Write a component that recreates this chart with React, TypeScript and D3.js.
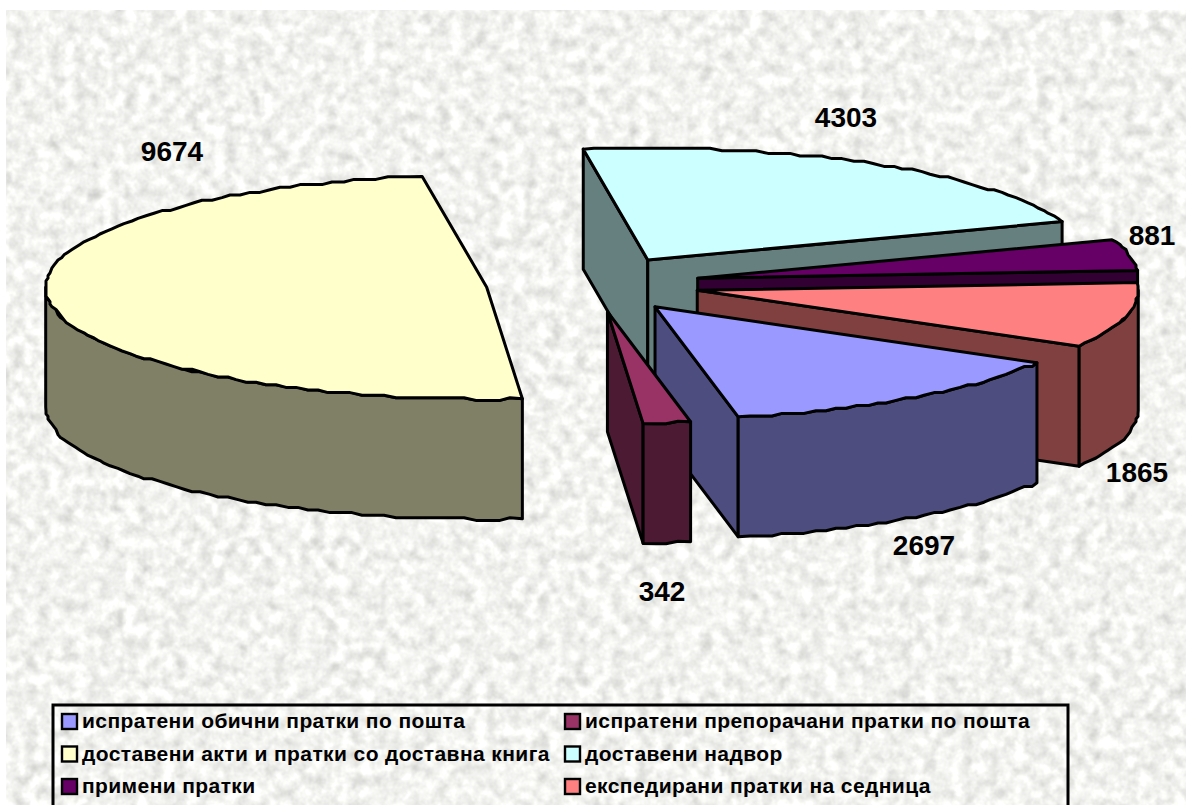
import React from "react";
import * as d3 from "d3";

const categories = [
  "испратени обични пратки по пошта",
  "испратени препорачани пратки по пошта",
  "доставени акти и пратки со доставна книга",
  "доставени надвор",
  "примени пратки",
  "експедирани пратки на седница",
];
const values = [2697, 342, 9674, 4303, 881, 1865];
const topColors = ["#9999ff", "#993366", "#ffffcc", "#ccffff", "#660066", "#ff8080"];
const wallColors = ["#4d4d80", "#4d1a33", "#808066", "#668080", "#330033", "#804040"];
const labelAnchors: [number, number][] = [
  [924, 555], [662, 601], [172, 161], [846, 127], [1152, 245], [1137, 482],
];

const W = 1186, H = 805;
const rx = 441, ry = 112, depth = 120;
const pieCx = 593, pieCy = 284, explodeX = 107, explodeY = 28;
const rad = (d: number) => (d * Math.PI) / 180;

const pie = d3.pie<number>().sort(null).startAngle(rad(120)).endAngle(rad(480));
const arcs = pie(values);

const lineGen = d3.line<[number, number]>().x(d => d[0]).y(d => d[1]).curve(d3.curveLinear);

type P = [number, number];
function rim(cx: number, cy: number, a0: number, a1: number): P[] {
  const step = rad(1.5);
  const n = Math.max(1, Math.round((a1 - a0) / step));
  const pts: P[] = [];
  for (let i = 0; i <= n; i++) {
    const t = a0 + ((a1 - a0) * i) / n;
    const x = cx + rx * Math.sin(t);
    const y = cy - ry * Math.cos(t);
    // the source is a low-resolution raster: its curves have a wavy stair-step
    const snap = i === 0 || i === n;
    pts.push([snap ? x : Math.round(x / 2) * 2, snap ? y : Math.round(y / 2.6) * 2.6]);
  }
  return pts;
}

function slicePaths(i: number) {
  const a = arcs[i];
  const mid = (a.startAngle + a.endAngle) / 2;
  const cx = pieCx + explodeX * Math.sin(mid);
  const cy = pieCy - explodeY * Math.cos(mid);
  const pt = (t: number): P => [cx + rx * Math.sin(t), cy - ry * Math.cos(t)];
  const walls: string[] = [];
  const wall = (p: P, q: P) =>
    walls.push(lineGen([p, q, [q[0], q[1] + depth], [p[0], p[1] + depth]])! + "Z");
  const apex: P = [cx, cy];
  if (Math.sin(a.startAngle) < 0) wall(apex, pt(a.startAngle));
  if (Math.sin(a.endAngle) > 0) wall(apex, pt(a.endAngle));
  // outer curved wall: the part of the rim that faces the viewer
  for (const k of [0, 1]) {
    const lo = Math.max(a.startAngle, rad(90 + 360 * k));
    const hi = Math.min(a.endAngle, rad(270 + 360 * k));
    if (hi > lo) {
      const r = rim(cx, cy, lo, hi);
      const low = r.slice().reverse().map(([x, y]): P => [x, y + depth]);
      walls.push(lineGen([...r, ...low])! + "Z");
    }
  }
  const top = lineGen([apex, ...rim(cx, cy, a.startAngle, a.endAngle)])! + "Z";
  return { walls, top, cy };
}

const slices = values
  .map((_, i) => ({ i, ...slicePaths(i) }))
  .sort((p, q) => p.cy - q.cy);

const legendRows = d3.range(Math.ceil(categories.length / 2));
const legendX = d3.scaleOrdinal<number, number>().domain([0, 1]).range([62, 565]);
const legendY = d3.scalePoint<number>().domain(legendRows).range([721, 786]);

const SANS = "'Liberation Sans', Arial, sans-serif";

export default function App() {
  return (
    <svg
      width={W}
      height={H}
      viewBox={`0 0 ${W} ${H}`}
      style={{ position: "absolute", left: 0, top: 0, background: "#fff" }}
    >
      <defs>
        <filter id="paper" x="0" y="0" width="100%" height="100%" colorInterpolationFilters="sRGB">
          <feTurbulence type="fractalNoise" baseFrequency="0.08" numOctaves="3" seed="7" />
          <feColorMatrix
            type="matrix"
            values="0.2 0.2 0 0 0.75  0.2 0.2 0 0 0.75  0.2 0.2 0 0 0.74  0 0 0 0 1"
          />
          <feGaussianBlur stdDeviation="0.7" />
        </filter>
      </defs>
      <rect x={6} y={10} width={W - 6} height={H - 10} filter="url(#paper)" />

      {slices.map(s => (
        <g key={s.i} stroke="#000" strokeWidth={3} strokeLinejoin="round">
          {s.walls.map((d, j) => (
            <path key={j} d={d} fill={wallColors[s.i]} />
          ))}
          <path d={s.top} fill={topColors[s.i]} />
        </g>
      ))}

      {values.map((v, i) => (
        <text
          key={i}
          x={labelAnchors[i][0]}
          y={labelAnchors[i][1]}
          textAnchor="middle"
          fontFamily={SANS}
          fontWeight="bold"
          fontSize={28}
          fill="#000"
        >
          {v}
        </text>
      ))}

      <rect x={53} y={705} width={1015} height={130} fill="none" stroke="#000" strokeWidth={3} />
      {categories.map((c, i) => {
        const col = i % 2;
        const row = Math.floor(i / 2);
        const x = legendX(col);
        const y = legendY(row)!;
        return (
          <g key={i}>
            <rect x={x} y={y - 7} width={15} height={15} fill={topColors[i]} stroke="#000" strokeWidth={2.4} />
            <text
              x={x + 20}
              y={y + 7}
              fontFamily={SANS}
              fontWeight="bold"
              fontSize={21}
              letterSpacing={0.4}
              fill="#000"
            >
              {c}
            </text>
          </g>
        );
      })}
    </svg>
  );
}
